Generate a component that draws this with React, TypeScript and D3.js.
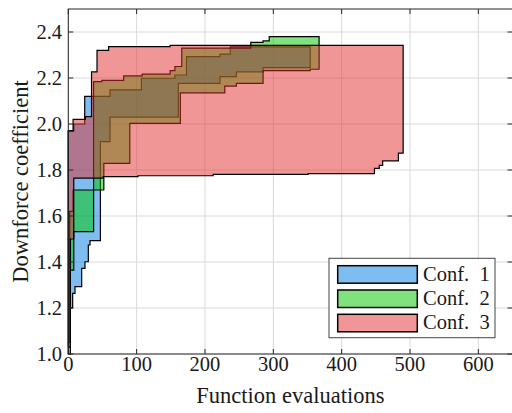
import React from 'react';
import * as d3 from 'd3';

// step points [evaluations, downforce coefficient]
const conf1Upper = [[0, 1.97], [8, 2.0], [24, 2.12], [61, 2.148], [107, 2.199], [156, 2.213], [173, 2.293], [222, 2.304], [237, 2.335]];
const conf1Lower = [[0, 1.05], [3, 1.2], [6.4, 1.264], [9.8, 1.293], [19.6, 1.372], [24.4, 1.401], [29.3, 1.474], [31.8, 1.493], [47, 1.923], [61, 2.03], [161, 2.177], [222, 2.206], [246, 2.227], [285, 2.245]];
const conf1End = 354;

const conf2Upper = [[0, 1.05], [2, 1.62], [7, 1.713], [37, 2.184], [49, 2.19], [81, 2.209], [108, 2.217], [149, 2.232], [156, 2.25], [166, 2.33], [267, 2.355], [285, 2.361], [294, 2.38]];
const conf2Lower = [[0, 1.0], [3, 1.365], [8, 1.532], [37, 1.713], [52, 1.829], [90, 2.003], [164, 2.135], [229, 2.165], [246, 2.177], [285, 2.232], [354, 2.238]];
const conf2End = 367;

const conf3Upper = [[0, 1.97], [7, 2.02], [25, 2.032], [34, 2.227], [42, 2.32], [59, 2.336], [149, 2.342]];
const conf3Lower = [[0, 1.03], [3, 1.5], [8, 1.765], [51, 1.771], [102, 1.775], [212, 1.781], [351, 1.784], [448, 1.807], [455, 1.82], [460, 1.84], [483, 1.873]];
const conf3End = 490;

const legendLabels = ['Conf. 1', 'Conf. 2', 'Conf. 3'];
const xTicks = [0, 100, 200, 300, 400, 500, 600];
const yTicks = [1.0, 1.2, 1.4, 1.6, 1.8, 2.0, 2.2, 2.4];

const colors = ['rgb(0,121,225)', 'rgb(0,197,0)', 'rgb(225,45,45)'];
const font = '"Liberation Serif", "Times New Roman", serif';

const x = d3.scaleLinear().domain([0, 650]).range([68.3, 512.5]);
const y = d3.scaleLinear().domain([1.0, 2.5]).range([354, 9]);

function stepAt(steps, t) {
  let v = steps[0][1];
  for (const s of steps) if (s[0] <= t) v = s[1];
  return v;
}

function bandPath(upper, lower, end) {
  const xs = Array.from(new Set([...upper.map(d => d[0]), ...lower.map(d => d[0]), end]))
    .filter(t => t <= end)
    .sort((a, b) => a - b);
  const rows = xs.map(t => ({ t, lo: stepAt(lower, t), hi: stepAt(upper, t) }));
  const area = d3.area()
    .x(d => x(d.t))
    .y0(d => y(d.lo))
    .y1(d => y(d.hi))
    .curve(d3.curveStepAfter);
  return area(rows);
}

export default function App() {
  const bands = [
    bandPath(conf1Upper, conf1Lower, conf1End),
    bandPath(conf2Upper, conf2Lower, conf2End),
    bandPath(conf3Upper, conf3Lower, conf3End),
  ];
  const [x0, x1] = x.range();
  const [yb, yt] = y.range();
  const yMid = (yt + yb) / 2;

  return (
    <svg width={512} height={413} style={{ position: 'absolute', left: 0, top: 0, fontFamily: font }}>
      <rect x={0} y={0} width={512} height={413} fill="#fff" />
      {/* grid */}
      {xTicks.map(t => (
        <line key={'gx' + t} x1={x(t)} x2={x(t)} y1={yt} y2={yb} stroke="#dadada" strokeWidth={1} />
      ))}
      {yTicks.map(t => (
        <line key={'gy' + t} x1={x0} x2={x1} y1={y(t)} y2={y(t)} stroke="#dadada" strokeWidth={1} />
      ))}

      {/* bands */}
      {bands.map((d, i) => (
        <path key={i} d={d} fill={colors[i]} fillOpacity={0.5} stroke="#000" strokeWidth={1.2} strokeLinejoin="miter" />
      ))}

      {/* axes box + ticks */}
      <rect x={x0} y={yt} width={x1 - x0} height={yb - yt} fill="none" stroke="#262626" strokeWidth={1} />
      {xTicks.map(t => (
        <g key={'tx' + t}>
          <line x1={x(t)} x2={x(t)} y1={yb} y2={yb - 5} stroke="#262626" />
          <line x1={x(t)} x2={x(t)} y1={yt} y2={yt + 5} stroke="#262626" />
          <text x={x(t)} y={371} fontSize={20.5} textAnchor="middle" fill="#1a1a1a">{t}</text>
        </g>
      ))}
      {yTicks.map(t => (
        <g key={'ty' + t}>
          <line x1={x0} x2={x0 + 5} y1={y(t)} y2={y(t)} stroke="#262626" />
          <line x1={x1} x2={x1 - 5} y1={y(t)} y2={y(t)} stroke="#262626" />
          <text x={62} y={y(t)} dy="0.33em" fontSize={20.5} textAnchor="end" fill="#1a1a1a">{t.toFixed(1)}</text>
        </g>
      ))}

      <text x={(x0 + x1) / 2} y={403} fontSize={22.5} textAnchor="middle" fill="#1a1a1a">Function evaluations</text>
      <text transform={`translate(28,${yMid}) rotate(-90)`} fontSize={22.5} textAnchor="middle" fill="#1a1a1a">Downforce coefficient</text>

      {/* legend */}
      <rect x={329} y={258.3} width={166} height={79.4} fill="#fff" stroke="#444" strokeWidth={1} />
      {legendLabels.map((l, i) => (
        <g key={l} transform={`translate(0,${265.7 + i * 24.3})`}>
          <rect x={337.7} y={0} width={79.6} height={17.5} fill={colors[i]} fillOpacity={0.5} stroke="#000" strokeWidth={1.5} />
          <text x={423} y={15} fontSize={20.5} fill="#1a1a1a" style={{ whiteSpace: 'pre' }}>{l.replace(' ', '  ')}</text>
        </g>
      ))}
    </svg>
  );
}
